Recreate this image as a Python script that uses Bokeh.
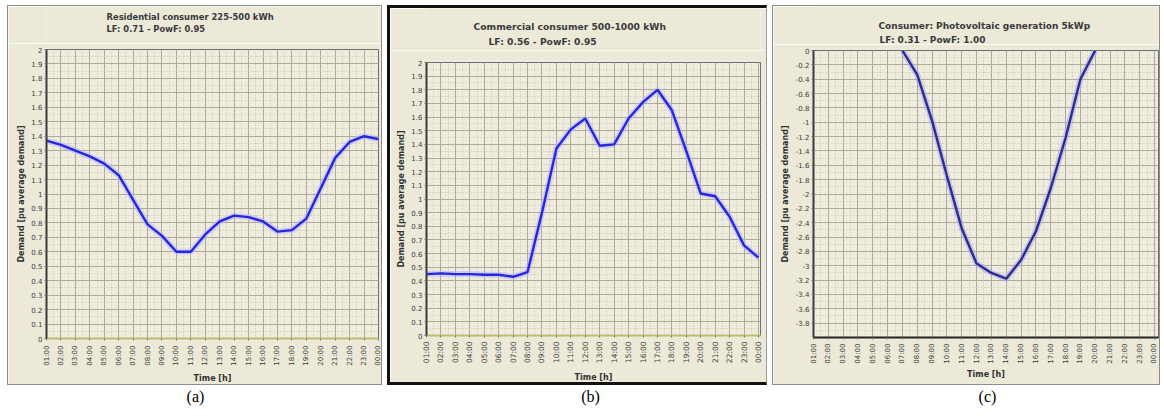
import math
from bokeh.plotting import figure
from bokeh.models import FixedTicker, CustomJSTickFormatter, Range1d, Spacer
from bokeh.layouts import row, column
from bokeh.embed import file_html
from bokeh.resources import INLINE
from bokeh.core.properties import value

# ---------------- data ----------------
hours = list(range(1, 25))
hour_labels = ["01:00", "02:00", "03:00", "04:00", "05:00", "06:00", "07:00", "08:00",
               "09:00", "10:00", "11:00", "12:00", "13:00", "14:00", "15:00", "16:00",
               "17:00", "18:00", "19:00", "20:00", "21:00", "22:00", "23:00", "00:00"]

residential = [1.37, 1.34, 1.30, 1.26, 1.21, 1.13, 0.96, 0.79, 0.71, 0.60, 0.60, 0.72,
               0.81, 0.85, 0.84, 0.81, 0.74, 0.75, 0.83, 1.04, 1.25, 1.36, 1.40, 1.38]
commercial = [0.45, 0.455, 0.45, 0.45, 0.445, 0.445, 0.43, 0.465, 0.90, 1.37, 1.51, 1.59,
              1.39, 1.40, 1.59, 1.71, 1.80, 1.65, 1.35, 1.04, 1.02, 0.87, 0.66, 0.57]
nan = float("nan")
photovoltaic = [nan, nan, nan, nan, nan, nan, 0.0, -0.34, -0.98, -1.75, -2.48, -2.97,
                -3.10, -3.18, -2.92, -2.52, -1.92, -1.22, -0.40, 0.0, nan, nan, nan, nan]

titles_a = ["Residential consumer 225-500 kWh", "LF: 0.71 - PowF: 0.95"]
titles_b = ["Commercial consumer 500-1000 kWh", "LF: 0.56 - PowF: 0.95"]
titles_c = ["Consumer: Photovoltaic generation 5kWp", "LF: 0.31 - PowF: 1.00"]
captions = ["(a)", "(b)", "(c)"]

y_label = "Demand [pu average demand]"
x_label = "Time [h]"

BG = "#ece9d9"
FRAME_BG = "#efecde"
GRID = "#aeab9c"
MINOR = "#c4c1b2"

yfmt_code = "return (Math.round(tick*10)/10).toString();"


def make_title(w, h, bl, br, lines, xs, ys, size, css):
    # frame is aligned with the plot below it; x range is in canvas pixels
    t = figure(width=w, height=h, x_range=Range1d(bl, w - br), y_range=Range1d(h, 0),
               output_backend="svg", toolbar_location=None, min_border=0,
               min_border_left=bl, min_border_right=br)
    t.axis.visible = False
    t.grid.visible = False
    t.outline_line_color = None
    t.background_fill_color = BG
    t.border_fill_color = BG
    t.styles = css
    t.text(x=xs, y=ys, text=lines, text_font=value("DejaVu Sans"), text_font_size=size,
           text_font_style="bold", text_color="#3a3a3a", text_align="left",
           text_baseline="middle")
    return t


def make_panel(w, h, borders, xend, yrange, yticks, yminor, ys, line_color, halo_color,
               bottom_color, css, tick_size, x_standoffs, y_label_standoff):
    bl, br, bt, bb = borders
    p = figure(width=w, height=h, x_range=Range1d(1, xend), y_range=Range1d(*yrange),
               output_backend="svg", toolbar_location=None,
               min_border_left=bl, min_border_right=br, min_border_top=bt, min_border_bottom=bb)
    p.styles = css
    p.background_fill_color = FRAME_BG
    p.border_fill_color = BG
    p.outline_line_color = "#6e6e6e"
    p.outline_line_width = 1

    xa = p.xaxis[0]
    xa.ticker = FixedTicker(ticks=hours, minor_ticks=[x + 0.5 for x in hours[:-1]])
    xa.major_label_overrides = {hh: lab for hh, lab in zip(hours, hour_labels)}
    xa.major_label_orientation = math.pi / 2
    xa.major_label_text_font = "DejaVu Sans"
    xa.major_label_text_font_size = tick_size
    xa.major_label_text_color = "#3c3c3c"
    xa.major_label_standoff = x_standoffs[0]
    xa.major_tick_out = 2
    xa.major_tick_in = 0
    xa.minor_tick_out = 0
    xa.minor_tick_in = 0
    xa.axis_line_color = bottom_color
    xa.axis_line_width = 2
    xa.major_tick_line_color = "#777777"
    xa.axis_label = x_label
    xa.axis_label_text_font = "DejaVu Sans"
    xa.axis_label_text_font_size = "8px"
    xa.axis_label_text_font_style = "bold"
    xa.axis_label_text_color = "#333333"
    xa.axis_label_standoff = x_standoffs[1]

    ya = p.yaxis[0]
    ya.ticker = FixedTicker(ticks=yticks, minor_ticks=yminor)
    ya.formatter = CustomJSTickFormatter(code=yfmt_code)
    ya.major_label_text_font = "DejaVu Sans"
    ya.major_label_text_font_size = "7px"
    ya.major_label_text_color = "#3c3c3c"
    ya.major_label_standoff = 2
    ya.major_tick_out = 2
    ya.major_tick_in = 0
    ya.minor_tick_out = 0
    ya.minor_tick_in = 0
    ya.axis_line_color = "#3a3a3a"
    ya.axis_line_width = 2
    ya.major_tick_line_color = "#777777"
    ya.axis_label = y_label
    ya.axis_label_text_font = "DejaVu Sans"
    ya.axis_label_text_font_size = "8px"
    ya.axis_label_text_font_style = "bold"
    ya.axis_label_text_color = "#333333"
    ya.axis_label_standoff = y_label_standoff

    for g in (p.xgrid[0], p.ygrid[0]):
        g.grid_line_color = GRID
        g.grid_line_width = 1
        g.minor_grid_line_color = MINOR
        g.minor_grid_line_dash = "1 2"
        g.minor_grid_line_width = 1

    p.line(hours, ys, line_color=halo_color, line_width=6, line_alpha=0.55)
    p.line(hours, ys, line_color=line_color, line_width=2.4)
    return p


ticks_ab = [round(0.1 * i, 1) for i in range(21)]
minor_ab = [round(0.05 + 0.1 * i, 2) for i in range(20)]
ticks_c = [round(-0.2 * i, 1) for i in range(20)]
minor_c = [round(-0.1 - 0.2 * i, 2) for i in range(20)]

thin_top = {"border-top": "1px solid #8c8c8c", "border-left": "1px solid #8c8c8c",
            "border-right": "1px solid #8c8c8c", "box-sizing": "border-box"}
thin_bot = {"border-bottom": "1px solid #8c8c8c", "border-left": "1px solid #8c8c8c",
            "border-right": "1px solid #8c8c8c", "box-sizing": "border-box"}
thick_top = {"border-top": "3px solid #111111", "border-left": "3px solid #111111",
             "border-right": "1px solid #9a9a9a", "box-sizing": "border-box"}
thick_bot = {"border-bottom": "3px solid #111111", "border-left": "3px solid #111111",
             "border-right": "1px solid #9a9a9a", "box-sizing": "border-box"}

# panel (a)
ta = make_title(375, 38, 38, 5, titles_a, [98, 98], [10, 22], "8.4px", thin_top)
pa = make_panel(375, 342, (38, 5, 6, 44), 24, (0, 2), ticks_ab, minor_ab, residential,
                "#2626dc", "#b4b4ff", "#bdbd6a", thin_bot, "7px", (5, 5), 2)
# panel (b)
tb = make_title(380, 45, 36, 10, titles_b, [83, 98], [18, 33], "9.2px", thick_top)
pb = make_panel(380, 335, (36, 10, 12, 49), 24.14, (0, 2), ticks_ab, minor_ab, commercial,
                "#2626dc", "#b4b4ff", "#bdbd6a", thick_bot, "7.5px", (4, 7), 2)
# panel (c)
tc = make_title(388, 39, 40, 3, titles_c, [105, 106], [19, 33], "9px", thin_top)
pc = make_panel(388, 341, (40, 3, 6, 48), 24.27, (-4, 0), ticks_c, minor_c, photovoltaic,
                "#2c2c8a", "#a8a8f4", "#222222", thin_bot, "7px", (4, 3), 3)

cap = figure(width=1164, height=30, x_range=Range1d(0, 1164), y_range=Range1d(0, 30),
             output_backend="svg", toolbar_location=None, min_border=0)
cap.axis.visible = False
cap.grid.visible = False
cap.outline_line_color = None
cap.background_fill_color = "white"
cap.border_fill_color = "white"
cap_x = [195, 590, 987]
cap.text(x=cap_x, y=[19, 19, 19], text=captions, text_font=value("Liberation Serif"),
         text_font_size="16px", text_align="center", text_baseline="middle", text_color="#000000")

panels = row(Spacer(width=7, height=380), column(ta, pa, spacing=0),
             Spacer(width=5, height=380), column(tb, pb, spacing=0),
             Spacer(width=5, height=380), column(tc, pc, spacing=0), spacing=0)
layout = column(Spacer(width=1164, height=5), panels, cap, spacing=0)

open("out.html", "w").write(file_html(layout, INLINE))
